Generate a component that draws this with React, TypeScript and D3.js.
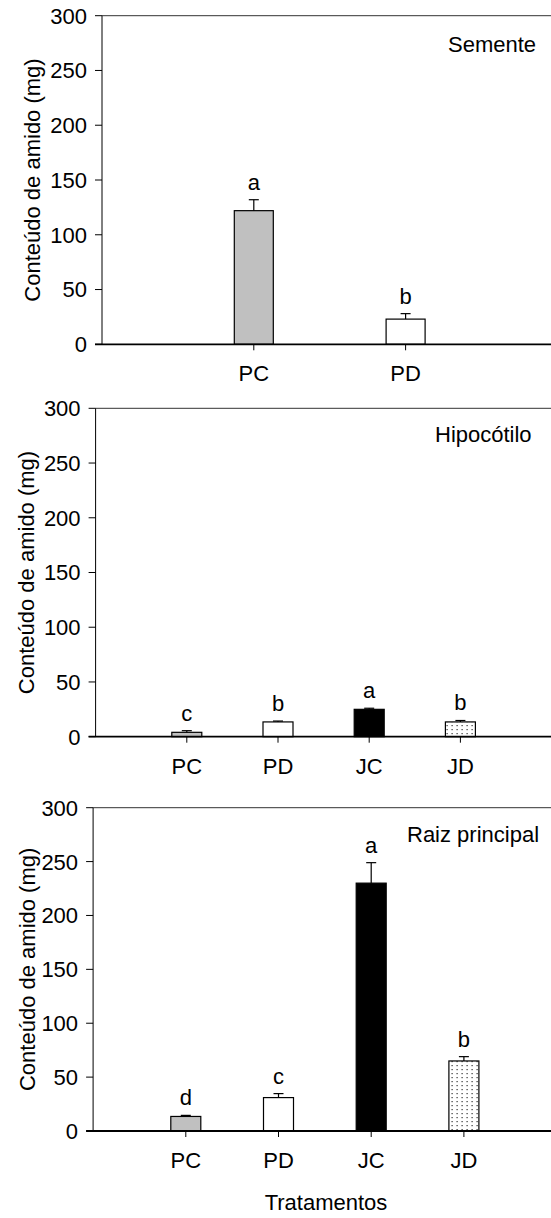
import React from "react";
import * as d3 from "d3";

// values (starch content, mg)
const semCats = ["PC", "PD"];
const semMeans = [122, 23];
const semErr = [10, 5];
const semLetters = ["a", "b"];

const hipCats = ["PC", "PD", "JC", "JD"];
const hipMeans = [4, 13.5, 25, 13.5];
const hipErr = [1.5, 0.8, 1, 1.3];
const hipLetters = ["c", "b", "a", "b"];

const raizCats = ["PC", "PD", "JC", "JD"];
const raizMeans = [13.5, 31, 230, 65];
const raizErr = [1, 3.7, 19, 4];
const raizLetters = ["d", "c", "a", "b"];

const yTicks = [0, 50, 100, 150, 200, 250, 300];

const W = 551;
const H = 1218;
const FONT = "Arial, 'Liberation Sans', sans-serif";

const fills: Record<string, string> = {
  PC: "#c0c0c0",
  PD: "#ffffff",
  JC: "#000000",
  JD: "url(#dots)",
};

const layout = [
  { title: "Semente", cats: semCats, means: semMeans, err: semErr, letters: semLetters,
    top: 15.7, bottom: 344.3, left: 102, step: 151.8, barW: 39, labelX: 32, titleX: 448, titleY: 52 },
  { title: "Hipocótilo", cats: hipCats, means: hipMeans, err: hipErr, letters: hipLetters,
    top: 408.3, bottom: 736.7, left: 95.6, step: 91.2, barW: 30, labelX: 26, titleX: 435, titleY: 442 },
  { title: "Raiz principal", cats: raizCats, means: raizMeans, err: raizErr, letters: raizLetters,
    top: 807.7, bottom: 1131, left: 93.1, step: 92.7, barW: 30, labelX: 27, titleX: 407, titleY: 842 },
];

function Panel({ p }: { p: (typeof layout)[number] }) {
  const n = p.cats.length;
  const x = d3
    .scalePoint<string>()
    .domain(p.cats)
    .range([p.left, p.left + (n + 1) * p.step])
    .padding(1);
  const y = d3.scaleLinear().domain([0, 300]).range([p.bottom, p.top]);

  return (
    <g>
      {/* bars */}
      {p.cats.map((c, i) => {
        const cx = x(c)!;
        const top = y(p.means[i]);
        const eTop = y(p.means[i] + p.err[i]);
        return (
          <g key={c}>
            <rect
              x={cx - p.barW / 2}
              y={top}
              width={p.barW}
              height={p.bottom - top}
              fill={fills[c]}
              stroke="#000"
              strokeWidth={1.2}
            />
            <line x1={cx} x2={cx} y1={top} y2={eTop} stroke="#000" strokeWidth={1.2} />
            <line x1={cx - 5} x2={cx + 5} y1={eTop} y2={eTop} stroke="#000" strokeWidth={1.2} />
            <text x={cx} y={eTop - 10} textAnchor="middle" fontSize={22} fontFamily={FONT}>
              {p.letters[i]}
            </text>
          </g>
        );
      })}

      {/* frame */}
      <line x1={p.left} x2={W} y1={p.top} y2={p.top} stroke="#333" strokeWidth={1} />
      <line x1={p.left} x2={p.left} y1={p.top} y2={p.bottom} stroke="#000" strokeWidth={1} />
      <line x1={p.left - 7} x2={W} y1={p.bottom} y2={p.bottom} stroke="#000" strokeWidth={1.8} />

      {/* y axis */}
      {yTicks.map((t) => (
        <g key={t}>
          <line x1={p.left - 7} x2={p.left} y1={y(t)} y2={y(t)} stroke="#000" strokeWidth={1} />
          <text
            x={p.left - 15}
            y={y(t)}
            dy="0.36em"
            textAnchor="end"
            fontSize={22}
            fontFamily={FONT}
          >
            {t}
          </text>
        </g>
      ))}

      {/* x axis */}
      {p.cats.map((c) => (
        <g key={c}>
          <line x1={x(c)} x2={x(c)} y1={p.bottom} y2={p.bottom + 6} stroke="#000" strokeWidth={1} />
          <text x={x(c)} y={p.bottom + 37} textAnchor="middle" fontSize={22} fontFamily={FONT}>
            {c}
          </text>
        </g>
      ))}

      <text
        transform={`translate(${p.labelX},${(p.top + p.bottom) / 2}) rotate(-90)`}
        dy="0.36em"
        textAnchor="middle"
        fontSize={22}
        fontFamily={FONT}
      >
        Conteúdo de amido (mg)
      </text>
      <text x={p.titleX} y={p.titleY} fontSize={22} fontFamily={FONT}>
        {p.title}
      </text>
    </g>
  );
}

export default function App() {
  return (
    <svg
      width={W}
      height={H}
      style={{ position: "absolute", left: 0, top: 0, background: "#fff" }}
    >
      <defs>
        <pattern id="dots" width={5} height={8} patternUnits="userSpaceOnUse">
          <rect width={5} height={8} fill="#fff" />
          <rect x={1.5} y={1} width={1.2} height={1.2} fill="#333" />
          <rect x={1.5} y={5} width={1.2} height={1.2} fill="#333" />
        </pattern>
      </defs>
      {layout.map((p) => (
        <Panel key={p.title} p={p} />
      ))}
      <text x={326} y={1210} textAnchor="middle" fontSize={22} fontFamily={FONT}>
        Tratamentos
      </text>
    </svg>
  );
}
